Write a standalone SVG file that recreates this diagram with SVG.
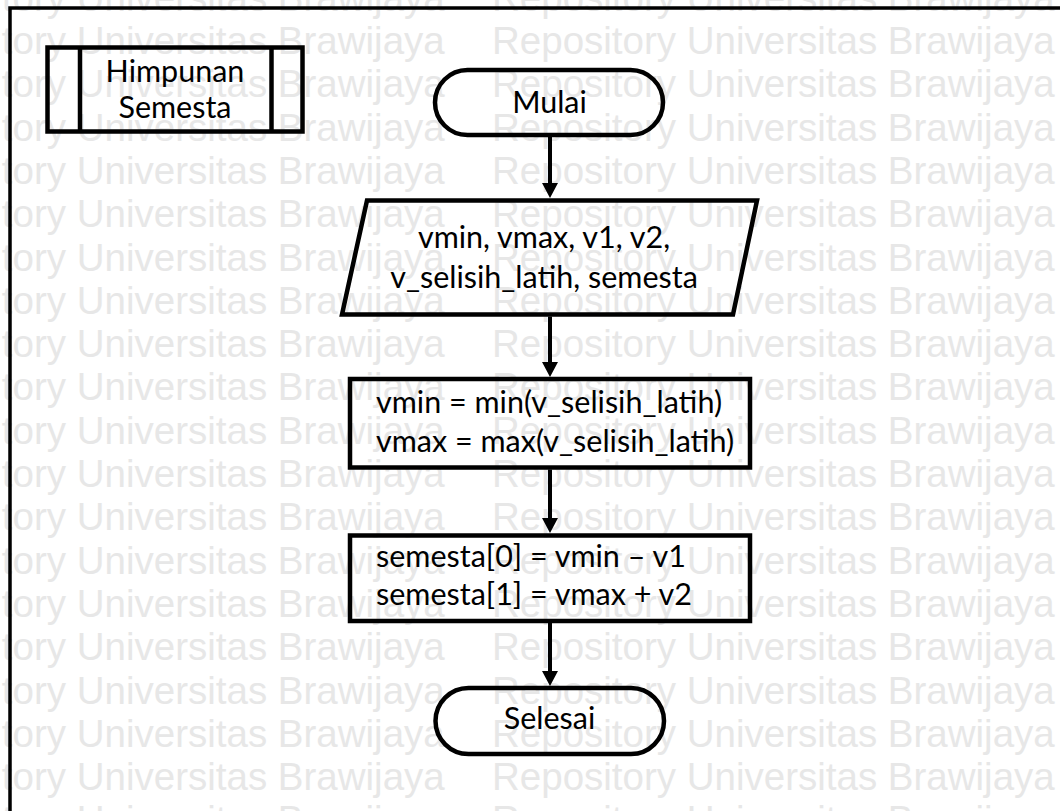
<svg xmlns="http://www.w3.org/2000/svg" xmlns:xlink="http://www.w3.org/1999/xlink" width="1060" height="811" viewBox="0 0 1060 811">
  <style>
    .wm { font-family: "Liberation Sans", Arial, sans-serif; font-size: 38.5px; fill: #e7e7e7; }
    .shape { fill: none; stroke: #000; stroke-width: 4.5; stroke-linejoin: miter; }
    .frame { fill: none; stroke: #000; stroke-width: 3.5; }
    .lbl { font-family: Lato, "Open Sans", sans-serif; font-size: 30.5px; fill: #000; }
    .mid { text-anchor: middle; }
    .conn { fill: none; stroke: #000; stroke-width: 4; }
  </style>
  <defs>
    <marker id="arrow" viewBox="0 -8 15 16" markerWidth="15" markerHeight="16" refX="1" refY="0" orient="auto" markerUnits="userSpaceOnUse">
      <path d="M0,-8 L15,0 L0,8 z" fill="#000"/>
    </marker>
    <g id="wm-row">
      <text class="wm" x="-118" y="0">Repository Universitas Brawijaya</text>
      <text class="wm" x="492" y="0">Repository Universitas Brawijaya</text>
    </g>
  </defs>

  <rect x="0" y="0" width="1060" height="811" fill="#fff"/>

  <!-- repeated background stamp -->
  <g id="watermark">
    <use xlink:href="#wm-row" y="10.7"/>
    <use xlink:href="#wm-row" y="54"/>
    <use xlink:href="#wm-row" y="97.3"/>
    <use xlink:href="#wm-row" y="140.6"/>
    <use xlink:href="#wm-row" y="183.9"/>
    <use xlink:href="#wm-row" y="227.2"/>
    <use xlink:href="#wm-row" y="270.5"/>
    <use xlink:href="#wm-row" y="313.8"/>
    <use xlink:href="#wm-row" y="357.1"/>
    <use xlink:href="#wm-row" y="400.4"/>
    <use xlink:href="#wm-row" y="443.7"/>
    <use xlink:href="#wm-row" y="487"/>
    <use xlink:href="#wm-row" y="530.3"/>
    <use xlink:href="#wm-row" y="573.6"/>
    <use xlink:href="#wm-row" y="616.9"/>
    <use xlink:href="#wm-row" y="660.2"/>
    <use xlink:href="#wm-row" y="703.5"/>
    <use xlink:href="#wm-row" y="746.8"/>
    <use xlink:href="#wm-row" y="790.1"/>
    <use xlink:href="#wm-row" y="833.4"/>
  </g>

  <!-- page frame -->
  <g id="frame">
    <path class="frame" d="M10,811 L10,8 L1060,8"/>
  </g>

  <!-- predefined process: Himpunan Semesta -->
  <g id="himpunan-semesta">
    <rect class="shape" x="47.5" y="47.5" width="255" height="84"/>
    <line class="shape" x1="80" y1="47.5" x2="80" y2="131.5"/>
    <line class="shape" x1="271.5" y1="47.5" x2="271.5" y2="131.5"/>
    <text class="lbl mid" x="175" y="82">Himpunan</text>
    <text class="lbl mid" x="175" y="118">Semesta</text>
  </g>

  <g id="mulai">
    <rect class="shape" x="435" y="70" width="228" height="65" rx="32.5" ry="32.5"/>
    <text class="lbl mid" x="549.5" y="113">Mulai</text>
  </g>

  <g id="input">
    <polygon class="shape" points="367,200.5 757,200.5 733,314.5 342,314.5"/>
    <text class="lbl mid" x="544" y="248">vmin, vmax, v1, v2,</text>
    <text class="lbl mid" x="544" y="288">v_selisih_latih, semesta</text>
  </g>

  <g id="minmax">
    <rect class="shape" x="350" y="379" width="400" height="88.5"/>
    <text class="lbl" x="376" y="413">vmin = min(v_selisih_latih)</text>
    <text class="lbl" x="376" y="452">vmax = max(v_selisih_latih)</text>
  </g>

  <g id="semesta-bounds">
    <rect class="shape" x="350" y="535.5" width="400" height="85.5"/>
    <text class="lbl" x="376" y="567">semesta[0] = vmin – v1</text>
    <text class="lbl" x="376" y="605">semesta[1] = vmax + v2</text>
  </g>

  <g id="selesai">
    <rect class="shape" x="435.5" y="688" width="228.5" height="66" rx="33" ry="33"/>
    <text class="lbl mid" x="549.5" y="729">Selesai</text>
  </g>

  <g id="connectors">
    <line class="conn" x1="550" y1="137" x2="550" y2="184" marker-end="url(#arrow)"/>
    <line class="conn" x1="550" y1="316.5" x2="550" y2="363" marker-end="url(#arrow)"/>
    <line class="conn" x1="550" y1="469.5" x2="550" y2="519" marker-end="url(#arrow)"/>
    <line class="conn" x1="550" y1="623" x2="550" y2="672" marker-end="url(#arrow)"/>
  </g>
</svg>
